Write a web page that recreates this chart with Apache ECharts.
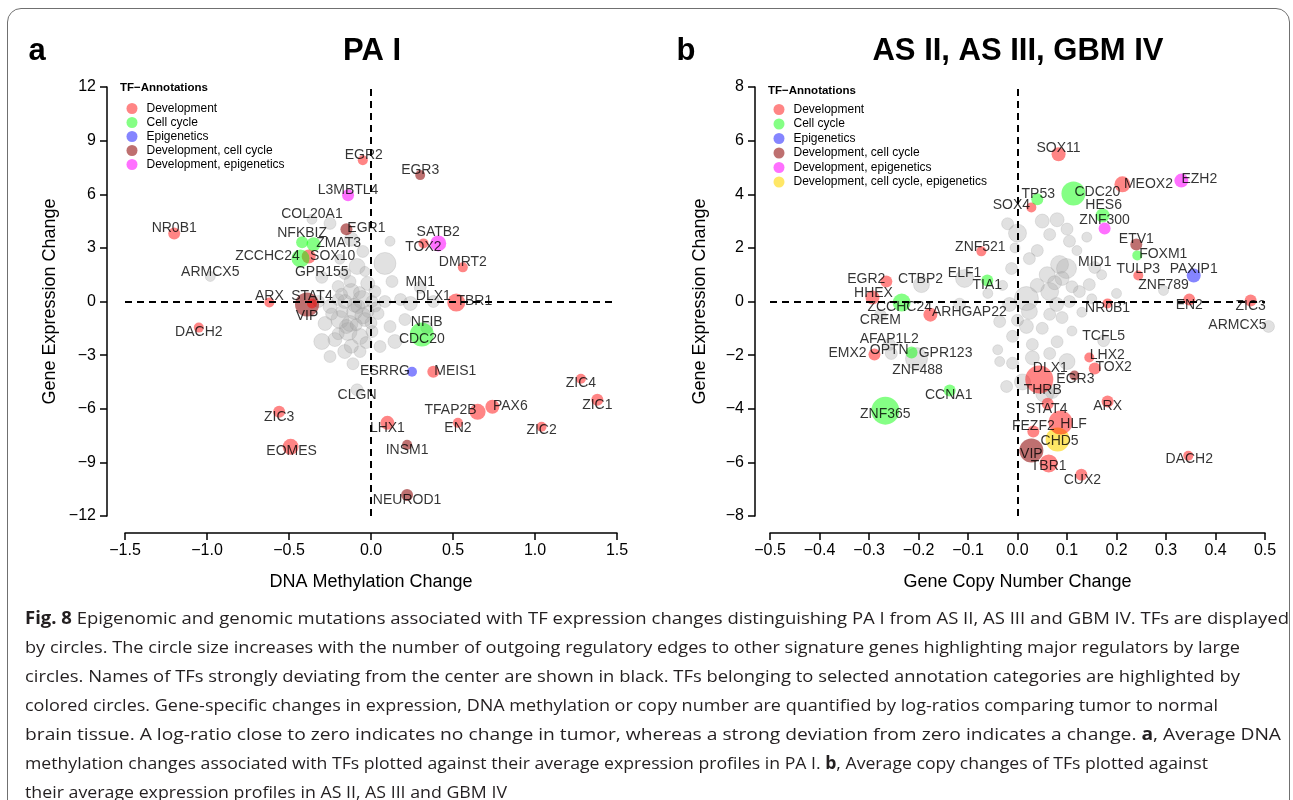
<!DOCTYPE html>
<html><head><meta charset="utf-8">
<script src="https://cdn.jsdelivr.net/npm/echarts@6.0.0/dist/echarts.min.js"></script>
<style>
html,body{margin:0;padding:0;background:#fff;}
#wrap{position:relative;width:1293px;height:800px;overflow:hidden;background:#fff;}
#chart{position:absolute;left:0;top:0;width:1293px;height:800px;}
#frame{position:absolute;left:7px;top:8px;width:1283px;height:860px;border:1.5px solid #707070;border-radius:14px;box-sizing:border-box;pointer-events:none;}
#cap{position:absolute;left:25px;top:603px;font-family:"Open Sans",sans-serif;font-size:17px;color:#231f20;}
#cap div{height:29px;line-height:29px;white-space:nowrap;}
#cap span{display:inline-block;transform-origin:0 50%;}
</style></head>
<body><div id="wrap"><div id="chart"></div><div id="frame"></div>
<div id="cap">
<div><span><b>Fig. 8</b> Epigenomic and genomic mutations associated with TF expression changes distinguishing PA I from AS II, AS III and GBM IV. TFs are displayed</span></div>
<div><span>by circles. The circle size increases with the number of outgoing regulatory edges to other signature genes highlighting major regulators by large</span></div>
<div><span>circles. Names of TFs strongly deviating from the center are shown in black. TFs belonging to selected annotation categories are highlighted by</span></div>
<div><span>colored circles. Gene-specific changes in expression, DNA methylation or copy number are quantified by log-ratios comparing tumor to normal</span></div>
<div><span>brain tissue. A log-ratio close to zero indicates no change in tumor, whereas a strong deviation from zero indicates a change. <b>a</b>, Average DNA</span></div>
<div><span>methylation changes associated with TFs plotted against their average expression profiles in PA I. <b>b</b>, Average copy changes of TFs plotted against</span></div>
<div><span>their average expression profiles in AS II, AS III and GBM IV</span></div>
</div></div>
<script>
// ---------- categories ----------
const catNames = ['Development','Cell cycle','Epigenetics','Development, cell cycle','Development, epigenetics','Development, cell cycle, epigenetics'];

// ---------- panel a : PA I (x = DNA methylation change, y = expression change) ----------
const paNames = ['EGR2','EGR3','L3MBTL4','NR0B1','COL20A1','EGR1','NFKBIZ','ZMAT3','ZCCHC24','SOX10','GPR155','ARMCX5','ARX','VIP','STAT4','DACH2','ZIC3','EOMES','CLGN','ESRRG','MEIS1','NFIB','CDC20','ZIC4','ZIC1','PAX6','TFAP2B','EN2','ZIC2','LHX1','INSM1','NEUROD1','SATB2','TOX2','DMRT2','MN1','DLX1','TBR1'];
const paMeth  = [-0.05,0.30,-0.14,-1.20,-0.36,-0.15,-0.42,-0.35,-0.43,-0.38,-0.30,-0.98,-0.62,-0.39,-0.36,-1.05,-0.56,-0.49,-0.085,0.25,0.38,0.34,0.31,1.28,1.38,0.74,0.65,0.53,1.04,0.10,0.22,0.22,0.41,0.32,0.56,0.30,0.38,0.52];
const paExpr  = [7.9,7.07,5.95,3.81,4.6,4.04,3.31,3.2,2.41,2.52,1.35,1.40,-0.06,-0.17,-0.11,-1.46,-6.17,-8.13,-4.94,-3.93,-3.93,-1.46,-1.85,-4.32,-5.5,-5.89,-6.17,-6.79,-7.01,-6.79,-8.02,-10.82,3.25,3.25,1.91,0.79,0.0,-0.06];
const paCat   = [0,3,4,0,-1,3,1,1,1,0,-1,-1,0,3,0,0,0,0,-1,2,0,-1,1,0,0,0,0,0,0,0,3,3,4,0,0,-1,-1,0];
const paHub   = [5,5,6,6,5,6,6,7,9,7,6,5,5,12,5,5,6,8,6,5,6,6,12,5,6,7,8,5,5,7,5,6,8,5,5,6,6,9];
const paGrayMeth = [-0.25,-0.12,-0.05,0.085,-0.085,-0.16,-0.02,-0.20,-0.12,-0.055,-0.16,-0.25,0.006,0.085,0.18,0.24,-0.10,-0.19,-0.28,-0.037,0.043,-0.14,-0.22,-0.067,0.006,-0.30,-0.16,-0.067,-0.25,0.116,0.146,0.055,-0.11,0.024,-0.19,0.128,-0.32,0.207,-0.037,-0.128,0.116,-0.08,-0.018,-0.177,-0.128,-0.2,-0.10,-0.05,-0.15,-0.09,-0.2,-0.03,-0.12,0.0,-0.07,-0.18,0.03,-0.24];
const paGrayExpr = [4.37,3.48,2.80,2.13,1.96,1.57,1.01,0.84,0.56,0.11,0.0,-0.28,0.0,0.0,0.11,-0.11,-0.56,-1.01,-1.23,-1.01,-0.67,-1.68,-2.13,-1.96,-1.68,-2.24,-2.80,-2.80,-3.08,-1.40,-2.24,-2.52,-3.48,0.56,2.36,1.12,0.0,-1.01,1.68,1.12,3.37,-0.28,-0.56,-0.56,-1.23,0.11,-0.2,-0.8,-1.4,-1.3,-1.8,-2.3,-2.5,-1.2,0.5,0.4,-0.3,-0.7];
const paGrayHub  = [6,7,6,11,8,6,7,6,8,9,7,7,6,6,6,7,8,9,7,7,6,9,7,8,6,8,7,6,6,6,7,6,6,6,5,6,6,6,5,6,5,7,6,6,8,6,7,8,7,6,6,6,7,6,6,6,5,6];

// ---------- panel b : AS II, AS III, GBM IV (x = copy number change, y = expression change) ----------
const gbNames = ['SOX11','CDC20','MEOX2','EZH2','TP53','SOX4','HES6','ZNF300','ETV1','FOXM1','MID1','TULP3','PAXIP1','ZNF789','ZNF521','NR0B1','EN2','ZIC3','ARMCX5','TIA1','ELF1','CTBP2','EGR2','HHEX','ZCCHC24','ARHGAP22','CREM','AFAP1L2','EMX2','OPTN','GPR123','ZNF488','CCNA1','ZNF365','DLX1','EGR3','THRB','LHX2','TOX2','TCFL5','STAT4','ARX','HLF','FEZF2','CHD5','VIP','TBR1','CUX2','DACH2'];
const gbCopy  = [0.083,0.113,0.212,0.331,0.040,0.028,0.172,0.176,0.240,0.242,0.156,0.244,0.356,0.295,-0.073,0.182,0.347,0.471,0.507,-0.061,-0.107,-0.194,-0.265,-0.293,-0.234,-0.176,-0.277,-0.259,-0.289,-0.255,-0.214,-0.204,-0.137,-0.267,0.044,0.115,0.055,0.145,0.156,0.174,0.061,0.182,0.087,0.032,0.081,0.028,0.063,0.129,0.345];
const gbExpr  = [5.49,4.03,4.37,4.51,3.81,3.51,3.21,2.72,2.13,1.72,1.27,0.97,0.97,0.41,1.87,-0.07,0.07,0.04,-0.93,0.78,0.86,0.63,0.75,0.15,-0.04,-0.49,-0.52,-1.60,-1.98,-1.94,-1.90,-2.13,-3.32,-4.07,-2.91,-2.76,-3.43,-2.09,-2.50,-1.46,-3.81,-3.73,-4.51,-4.85,-5.15,-5.56,-6.04,-6.46,-5.75];
const gbCat   = [0,1,0,4,1,0,1,4,3,1,-1,0,2,-1,0,0,0,0,-1,1,-1,-1,0,0,1,0,-1,-1,0,-1,1,-1,1,1,0,3,-1,0,0,-1,0,0,0,0,5,3,0,0,0];
const gbHub   = [7,12,8,7,6,5,7,6,6,5,6,5,7,5,5,5,6,6,6,6,9,8,6,7,9,7,6,6,6,6,6,11,6,14,14,5,9,5,6,6,6,6,12,6,12,12,9,6,5];
const gbGrayCopy = [0.05,0.08,0.10,0.105,0.065,0.0,-0.012,0.024,0.085,0.099,0.09,0.17,0.145,0.125,0.018,0.065,0.079,0.024,-0.016,0.105,-0.01,0.018,0.065,0.03,-0.01,-0.022,0.1,0.07,0.065,0.01,-0.036,-0.036,0.04,0.12,0.14,-0.03,0.0,0.05,0.09,0.13,0.03,0.08,0.11,-0.04,0.15,0.2,-0.005,-0.117,-0.02,-0.06,0.06,0.075,0.11,0.04];
const gbGrayExpr = [3.0,3.05,2.7,2.25,2.5,2.55,1.23,1.6,1.38,1.23,0.86,1.0,0.63,0.37,0.11,0.37,-0.11,-0.37,-0.11,0.0,-1.3,-0.93,-0.48,-2.1,-2.3,-3.17,-2.24,-3.36,-1.94,-3.0,-2.24,-0.75,1.9,1.9,2.4,0.6,-0.7,-1.0,-0.6,-0.4,-1.6,-1.5,-1.1,-1.8,0.1,0.3,2.0,-0.1,2.9,0.3,1.0,0.7,0.55,0.6];
const gbGrayHub  = [7,7,6,6,6,9,6,6,9,10,7,5,6,6,12,9,7,8,7,6,6,7,6,7,6,6,8,7,6,8,5,6,6,5,5,5,6,6,6,5,6,6,5,5,5,5,5,6,6,5,8,7,6,7];

// ---------- tick values ----------
const paXTicks = [-1.5,-1.0,-0.5,0.0,0.5,1.0,1.5];
const paYTicks = [-12,-9,-6,-3,0,3,6,9,12];
const gbXTicks = [-0.5,-0.4,-0.3,-0.2,-0.1,0.0,0.1,0.2,0.3,0.4,0.5];
const gbYTicks = [-8,-6,-4,-2,0,2,4,6,8];

// ---------- styles ----------
const catColors = ['rgba(255,0,0,0.6)','rgba(0,255,0,0.6)','rgba(0,0,255,0.6)','rgba(139,0,0,0.7)','rgba(255,0,255,0.7)','rgba(255,215,0,0.75)'];
const grayColor = 'rgba(165,165,165,0.42)';
const labelOffsetA = {EGR2:[1,-5],EGR3:[0,-5],L3MBTL4:[0,-5],NR0B1:[0,-5],COL20A1:[0,-5],EGR1:[20,-1],NFKBIZ:[0,-9],ZMAT3:[25,-1],ZCCHC24:[-33,-2],SOX10:[24,0],GPR155:[0,-5],ARMCX5:[0,-4],ARX:[0,-6],VIP:[0,12],STAT4:[0,-7],DACH2:[0,5],ZIC3:[0,5],EOMES:[1,4],CLGN:[0,5],ESRRG:[-27,-1],MEIS1:[22,-1],NFIB:[0,-5],CDC20:[0,5],ZIC4:[0,4],ZIC1:[0,5],PAX6:[18,-1],TFAP2B:[-27,-2],EN2:[0,5],ZIC2:[0,3],LHX1:[0,5],INSM1:[0,5],NEUROD1:[0,5],SATB2:[0,-11],TOX2:[0,4],DMRT2:[0,-5],MN1:[0,-5],DLX1:[0,-5],TBR1:[18,-1]};
const labelOffsetB = {SOX11:[0,-6],CDC20:[24,-1],MEOX2:[26,0],EZH2:[18,-1],TP53:[1,-5],SOX4:[-20,-2],HES6:[1,-10],ZNF300:[0,-8],ETV1:[0,-5],FOXM1:[26,-1],MID1:[0,-5],TULP3:[0,-6],PAXIP1:[0,-6],ZNF789:[0,-5],ZNF521:[-1,-4],NR0B1:[0,5],EN2:[0,6],ZIC3:[0,6],ARMCX5:[-31,-1],TIA1:[0,5],ELF1:[0,-5],CTBP2:[-1,-5],EGR2:[-20,-2],HHEX:[1,-4],ZCCHC24:[-2,5],ARHGAP22:[39,-2],CREM:[0,5],AFAP1L2:[0,-5],EMX2:[-27,-1],OPTN:[-2,-3],GPR123:[34,1],ZNF488:[1,12],CCNA1:[-1,5],ZNF365:[0,4],DLX1:[11,-11],EGR3:[1,4],THRB:[-2,-3],LHX2:[18,-2],TOX2:[19,-1],TCFL5:[0,-5],STAT4:[-1,5],ARX:[0,5],HLF:[13,2],FEZF2:[0,-5],CHD5:[2,2],VIP:[0,4],TBR1:[0,3],CUX2:[1,5],DACH2:[1,3]};

const FONT = '"Liberation Sans", Arial, Helvetica, sans-serif';
const fmtMinus = s => String(s).replace('-', '\u2212');

function buildPanel(idx, names, xs, ys, cats, hubs, gx, gy, gh, offsets) {
  const out = [];
  const lbl = (n) => ({show:true, position:'inside', offset: offsets[n] || [0,-5], formatter: n, color:'#000', fontSize:14, fontFamily:FONT});
  // gray (no annotation) circles
  const grayData = [];
  for (let i = 0; i < gx.length; i++) grayData.push({value:[gx[i], gy[i], gh[i]]});
  for (let i = 0; i < names.length; i++) if (cats[i] === -1) grayData.push({name:names[i], value:[xs[i], ys[i], hubs[i]], label: lbl(names[i])});
  out.push({type:'scatter', name:'Other', xAxisIndex:idx, yAxisIndex:idx, clip:false, silent:true,
    symbolSize: v => v[2]*2, itemStyle:{color:grayColor, borderColor:'rgba(140,140,140,0.25)', borderWidth:1},
    label:{show:false}, data: grayData});
  const order = [3,5,0,1,2,4];
  order.forEach(c => {
    if (idx === 0 && c === 5) return;
    const d = [];
    for (let i = 0; i < names.length; i++) if (cats[i] === c) d.push({name:names[i], value:[xs[i], ys[i], hubs[i]], label: lbl(names[i])});
    out.push({type:'scatter', name:catNames[c], xAxisIndex:idx, yAxisIndex:idx, clip:false, silent:true,
      symbolSize: v => v[2]*2, itemStyle:{color:catColors[c]}, label:{show:false}, data:d});
  });
  out.push({type:'scatter', name:'ref'+idx, xAxisIndex:idx, yAxisIndex:idx, data:[], z:3, silent:true,
    markLine:{silent:true, symbol:['none','none'], label:{show:false}, animation:false,
      lineStyle:{type:[7,5], color:'#000', width:2}, data:[{xAxis:0},{yAxis:0}]}});
  return out;
}

function xAxisCfg(idx, ticks, name, dec) {
  return {gridIndex:idx, type:'value', min:ticks[0], max:ticks[ticks.length-1], interval: +(ticks[1]-ticks[0]).toFixed(2),
    offset:17, splitLine:{show:false},
    axisLine:{show:true, onZero:false, lineStyle:{color:'#000', width:1.5}},
    axisTick:{show:true, length:7, lineStyle:{color:'#000', width:1.5}},
    axisLabel:{margin:10, fontSize:16, color:'#000', fontFamily:FONT, formatter: v => fmtMinus((Math.abs(v) < 1e-9 ? 0 : v).toFixed(dec))},
    name:name, nameLocation:'middle', nameGap:40, nameTextStyle:{fontSize:18, color:'#000', fontFamily:FONT}};
}
function yAxisCfg(idx, ticks, name, off, gap) {
  return {gridIndex:idx, type:'value', min:ticks[0], max:ticks[ticks.length-1], interval: ticks[1]-ticks[0],
    offset:off, splitLine:{show:false},
    axisLine:{show:true, onZero:false, lineStyle:{color:'#000', width:1.5}},
    axisTick:{show:true, length:7, lineStyle:{color:'#000', width:1.5}},
    axisLabel:{margin:11, fontSize:16, color:'#000', fontFamily:FONT, formatter: v => fmtMinus(v)},
    name:name, nameLocation:'middle', nameGap:gap, nameRotate:90, nameTextStyle:{fontSize:18, color:'#000', fontFamily:FONT}};
}

const chart = echarts.init(document.getElementById('chart'), null, {renderer:'canvas'});
const txt = (t, x, y, font, align) => ({type:'text', x:x, y:y, silent:true, style:{text:t, font:font, fill:'#000', textAlign:align||'center', textVerticalAlign:'middle'}});
const option = {
  animation:false,
  backgroundColor:'#fff',
  textStyle:{fontFamily:FONT},
  grid:[{left:125, top:87, width:492, height:429},{left:770, top:87, width:495, height:429}],
  xAxis:[xAxisCfg(0, paXTicks, 'DNA Methylation Change', 1), xAxisCfg(1, gbXTicks, 'Gene Copy Number Change', 1)],
  yAxis:[yAxisCfg(0, paYTicks, 'Gene Expression Change', 18, 48), yAxisCfg(1, gbYTicks, 'Gene Expression Change', 15, 46)],
  legend:[
    {left:121.5, top:97.5, orient:'vertical', icon:'circle', itemWidth:11, itemHeight:11, itemGap:2, selectedMode:false,
     data:catNames.slice(0,5), textStyle:{fontSize:12, color:'#000', fontFamily:FONT, padding:[0,0,0,4]}},
    {left:768.5, top:98.5, orient:'vertical', icon:'circle', itemWidth:11, itemHeight:11, itemGap:2.5, selectedMode:false,
     data:catNames, textStyle:{fontSize:12, color:'#000', fontFamily:FONT, padding:[0,0,0,4]}}
  ],
  graphic:[
    txt('a', 37, 51, 'bold 31px ' + FONT),
    txt('PA I', 372, 51, 'bold 31px ' + FONT),
    txt('b', 686, 51, 'bold 31px ' + FONT),
    txt('AS II, AS III, GBM IV', 1018, 51, 'bold 31px ' + FONT),
    txt('TF\u2212Annotations', 120, 88, 'bold 11.5px ' + FONT, 'left'),
    txt('TF\u2212Annotations', 768, 91, 'bold 11.5px ' + FONT, 'left')
  ],
  series: [].concat(
    buildPanel(0, paNames, paMeth, paExpr, paCat, paHub, paGrayMeth, paGrayExpr, paGrayHub, labelOffsetA),
    buildPanel(1, gbNames, gbCopy, gbExpr, gbCat, gbHub, gbGrayCopy, gbGrayExpr, gbGrayHub, labelOffsetB)
  )
};
chart.setOption(option);

// fit caption lines to their measured widths in the reference
const capRight = [1289,1240,1240,1218,1281,1208,507];
function fitCaption(){
  const spans = document.querySelectorAll('#cap span');
  spans.forEach((s, i) => {
    s.style.transform = 'none';
    const w = s.getBoundingClientRect().width;
    const target = capRight[i] - 25;
    if (w > 0) s.style.transform = 'scaleX(' + (target / w).toFixed(4) + ')';
  });
}
fitCaption();
if (document.fonts && document.fonts.ready) document.fonts.ready.then(fitCaption);
</script>
</body></html>
